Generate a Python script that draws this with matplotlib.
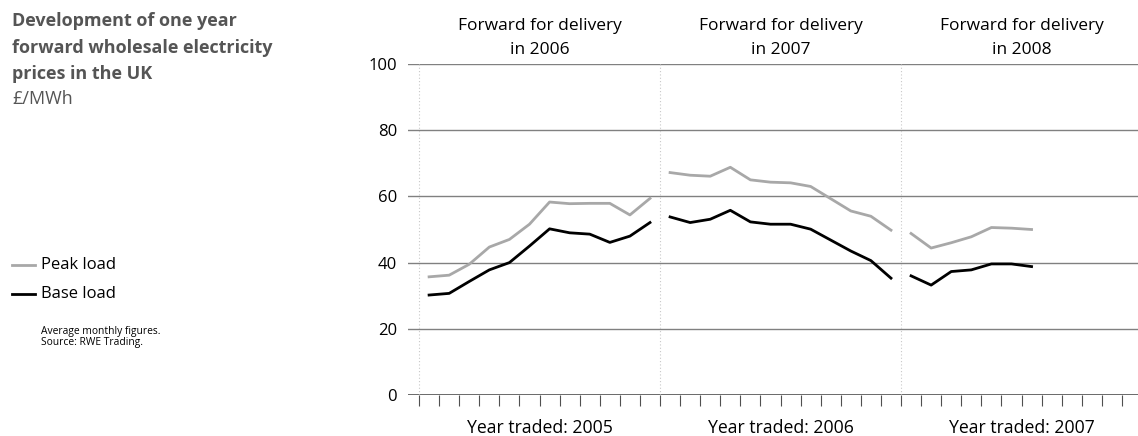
import numpy as np
import matplotlib
matplotlib.use("Agg")
import matplotlib.pyplot as plt

# Forward prices, GBP/MWh, monthly averages
years_traded = ["2005", "2006", "2007"]
delivery_years = ["2006", "2007", "2008"]

peak_2005 = [35.7, 36.2, 39.5, 44.7, 47.0, 51.6, 58.3, 57.8, 57.9, 57.9, 54.4, 59.4]
base_2005 = [30.2, 30.7, 34.3, 37.8, 40.0, 45.0, 50.2, 49.0, 48.6, 46.1, 48.0, 52.1]
peak_2006 = [67.2, 66.4, 66.1, 68.8, 65.0, 64.3, 64.1, 63.0, 59.3, 55.6, 54.0, 49.8]
base_2006 = [53.8, 52.1, 53.1, 55.8, 52.3, 51.6, 51.6, 50.1, 46.8, 43.5, 40.6, 35.3]
peak_2007 = [48.8, 44.4, 46.0, 47.8, 50.6, 50.4, 50.0]
base_2007 = [36.0, 33.2, 37.3, 37.8, 39.6, 39.6, 38.8]

peak = [peak_2005, peak_2006, peak_2007]
base = [base_2005, base_2006, base_2007]

peak_col = "#a8a8a8"
base_col = "#000000"
plt.rcParams["font.family"] = ["Open Sans", "DejaVu Sans"]

fig = plt.figure(figsize=(11.38, 4.36), dpi=100)
ax = fig.add_axes([408 / 1138, 1 - 395 / 436, 730 / 1138, (395 - 64) / 436])

for i in range(3):
    x = 12 * i + np.arange(len(peak[i])) + 0.5
    ax.plot(x, peak[i], color=peak_col, lw=2.0)
    ax.plot(x, base[i], color=base_col, lw=2.0)

ax.set_xlim(-0.55, 35.8)
ax.set_ylim(0, 100)

for y in [20, 40, 60, 80, 100]:
    ax.axhline(y, color="#808080", lw=1.0, zorder=0)
ax.axhline(0, color="#505050", lw=1.2, zorder=0)
for b in [0, 12, 24]:
    ax.axvline(b, color="#c8c8c8", lw=0.8, ls=(0, (1, 2)), zorder=0)

for s in ax.spines.values():
    s.set_visible(False)

ax.set_yticks([0, 20, 40, 60, 80, 100])
ax.set_xticks(np.arange(0, 36))
ax.set_xticklabels([])
ax.tick_params(axis="y", length=0, pad=8, labelsize=12)
ax.tick_params(axis="x", length=8, width=0.8, color="#505050", direction="out")

for i in range(3):
    ax.text(12 * i + 6, -7.2, "Year traded: " + years_traded[i], ha="center", va="top",
            fontsize=12.7, clip_on=False)
    ax.text(12 * i + 6, 101.8, "Forward for delivery\nin " + delivery_years[i], ha="center",
            va="bottom", fontsize=12.5, linespacing=1.7, clip_on=False)

# left hand text block
fig.text(12 / 1138, 1 - 12 / 436, "Development of one year\nforward wholesale electricity\nprices in the UK",
         ha="left", va="top", fontsize=13, fontweight="bold", color="#555555", linespacing=1.62)
fig.text(12 / 1138, 1 - 90 / 436, "£/MWh", ha="left", va="top", fontsize=13, color="#555555")

for k, (lab, col) in enumerate([("Peak load", peak_col), ("Base load", base_col)]):
    yy = 1 - (265 + 29 * k) / 436
    fig.add_artist(plt.Line2D([12 / 1138, 35 / 1138], [yy, yy], color=col, lw=2.0))
    fig.text(41 / 1138, yy, lab, ha="left", va="center", fontsize=12)

fig.text(41 / 1138, 1 - 326 / 436, "Average monthly figures.\nSource: RWE Trading.",
         ha="left", va="top", fontsize=7.4, linespacing=0.95)

fig.savefig("out.png", dpi=100)
